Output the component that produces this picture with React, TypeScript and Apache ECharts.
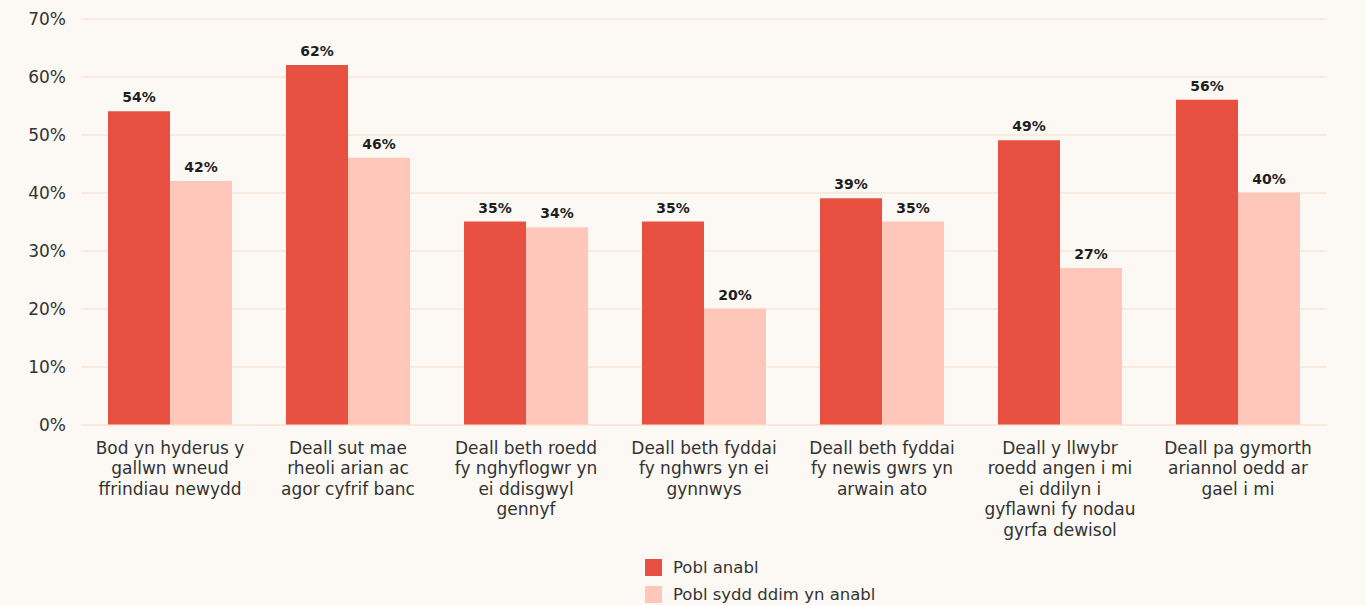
import React, { useEffect, useRef } from "react";
import * as echarts from "echarts";

const categories = [
  "Bod yn hyderus y\ngallwn wneud\nffrindiau newydd",
  "Deall sut mae\nrheoli arian ac\nagor cyfrif banc",
  "Deall beth roedd\nfy nghyflogwr yn\nei ddisgwyl\ngennyf",
  "Deall beth fyddai\nfy nghwrs yn ei\ngynnwys",
  "Deall beth fyddai\nfy newis gwrs yn\narwain ato",
  "Deall y llwybr\nroedd angen i mi\nei ddilyn i\ngyflawni fy nodau\ngyrfa dewisol",
  "Deall pa gymorth\nariannol oedd ar\ngael i mi",
];

const seriesNames = ["Pobl anabl", "Pobl sydd ddim yn anabl"];
const disabled = [54, 62, 35, 35, 39, 49, 56];
const nonDisabled = [42, 46, 34, 20, 35, 27, 40];

const FONT = "'DejaVu Sans', sans-serif";

export default function App() {
  const ref = useRef<HTMLDivElement>(null);
  useEffect(() => {
    if (!ref.current) return;
    const chart = echarts.init(ref.current, null, { renderer: "svg" });
    const label = {
      show: true,
      position: "top",
      distance: 7,
      formatter: (p: any) => `${p.value}%`,
      color: "#1e1e1e",
      fontWeight: "bold",
      fontSize: 14,
      fontFamily: FONT,
    };
    chart.setOption({
      animation: false,
      backgroundColor: "#fcf9f4",
      textStyle: { fontFamily: FONT },
      grid: { left: 81, width: 1246, top: 18.5, height: 406, containLabel: false },
      legend: {
        orient: "vertical",
        left: 645,
        top: 559,
        padding: 0,
        itemWidth: 17,
        itemHeight: 17,
        itemGap: 10,
        icon: "rect",
        textStyle: { fontSize: 16.5, color: "#333", fontFamily: FONT, padding: [0, 0, 0, 6] },
        data: seriesNames,
      },
      xAxis: {
        type: "category",
        data: categories,
        axisLine: { show: true, lineStyle: { color: "#f8e7d7", width: 1.5 } },
        axisTick: { show: false },
        axisLabel: {
          interval: 0,
          margin: 13,
          fontSize: 17,
          lineHeight: 20.5,
          color: "#333",
          fontFamily: FONT,
        },
      },
      yAxis: {
        type: "value",
        min: 0,
        max: 70,
        interval: 10,
        axisLine: { show: false },
        axisTick: { show: false },
        axisLabel: {
          formatter: "{value}%",
          fontSize: 17,
          color: "#333",
          margin: 15,
          fontFamily: FONT,
        },
        splitLine: { lineStyle: { color: "#f8e7d7", width: 1.5 } },
      },
      series: [
        {
          name: seriesNames[0],
          type: "bar",
          data: disabled,
          barWidth: 62,
          barGap: "0%",
          itemStyle: { color: "#e85141" },
          label,
        },
        {
          name: seriesNames[1],
          type: "bar",
          data: nonDisabled,
          barWidth: 62,
          barGap: "0%",
          itemStyle: { color: "#ffc7b9" },
          label,
        },
      ],
    });
    return () => chart.dispose();
  }, []);
  return (
    <div
      ref={ref}
      style={{ position: "fixed", left: 0, top: 0, width: 1366, height: 605, background: "#fcf9f4" }}
    />
  );
}
